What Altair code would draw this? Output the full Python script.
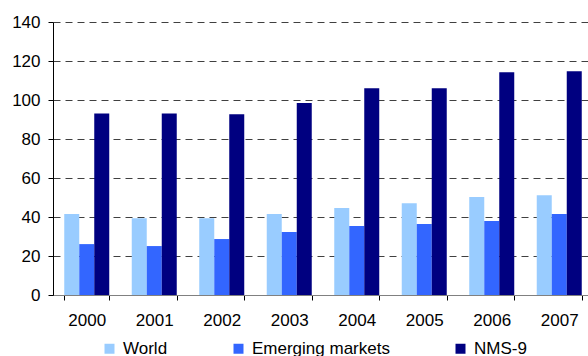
import altair as alt
import pandas as pd

years = ["2000", "2001", "2002", "2003", "2004", "2005", "2006", "2007"]
world = [41.6, 39.4, 39.4, 41.6, 44.6, 47.1, 50.2, 51.2]
emerging = [26.1, 25.1, 28.7, 32.3, 35.4, 36.4, 37.9, 41.5]
nms9 = [93.1, 93.1, 92.7, 98.4, 106.0, 106.0, 114.2, 114.8]
series = ["World", "Emerging markets", "NMS-9"]
colors = ["#99CCFF", "#3366FF", "#000080"]
y_ticks = [0, 20, 40, 60, 80, 100, 120, 140]

rows = []
for name, vals in zip(series, [world, emerging, nms9]):
    for yr, v in zip(years, vals):
        rows.append({"year": yr, "series": name, "value": v})
df = pd.DataFrame(rows)

FONT = "Liberation Sans"
FS = 17
STEP = 67.5

chart = alt.Chart(df).mark_bar().encode(
    x=alt.X(
        "year:N",
        sort=years,
        scale=alt.Scale(paddingInner=1 / 3, paddingOuter=1 / 6, range=[0, STEP * len(years)]),
        axis=alt.Axis(
            title=None,
            labelAngle=0,
            tickBand="extent",
            tickSize=5,
            tickColor="#000000",
            domainColor="#808080",
            labelPadding=12,
            labelFont=FONT,
            labelFontSize=FS,
            labelColor="#000000",
            grid=False,
        ),
    ),
    xOffset=alt.XOffset("series:N", sort=series, scale=alt.Scale(paddingInner=0, paddingOuter=0)),
    y=alt.Y(
        "value:Q",
        scale=alt.Scale(domain=[0, 140], nice=False),
        axis=alt.Axis(
            title=None,
            values=y_ticks,
            tickSize=5,
            tickColor="#000000",
            domainColor="#000000",
            labelPadding=8,
            labelFont=FONT,
            labelFontSize=FS,
            labelColor="#000000",
            grid=True,
            gridColor="#000000",
            gridDash=[7, 5],
            gridOpacity=0.75,
        ),
    ),
    color=alt.Color(
        "series:N",
        sort=series,
        scale=alt.Scale(domain=series, range=colors),
        legend=alt.Legend(
            title=None,
            orient="none",
            direction="horizontal",
            legendX=48,
            legendY=318,
            symbolType="square",
            symbolSize=100,
            symbolStrokeWidth=0,
            symbolOpacity=1,
            labelFont=FONT,
            labelFontSize=FS,
            labelColor="#000000",
            labelOffset=5,
            columnPadding=62,
            padding=0,
        ),
    ),
).properties(
    width=535,
    height=273,
    autosize=alt.AutoSizeParams(type="none"),
    padding={"left": 53, "top": 22, "right": 0, "bottom": 61},
    background="#ffffff",
).configure_view(stroke=None)

chart.save("out.html", embed_options={"renderer": "svg", "actions": False})
